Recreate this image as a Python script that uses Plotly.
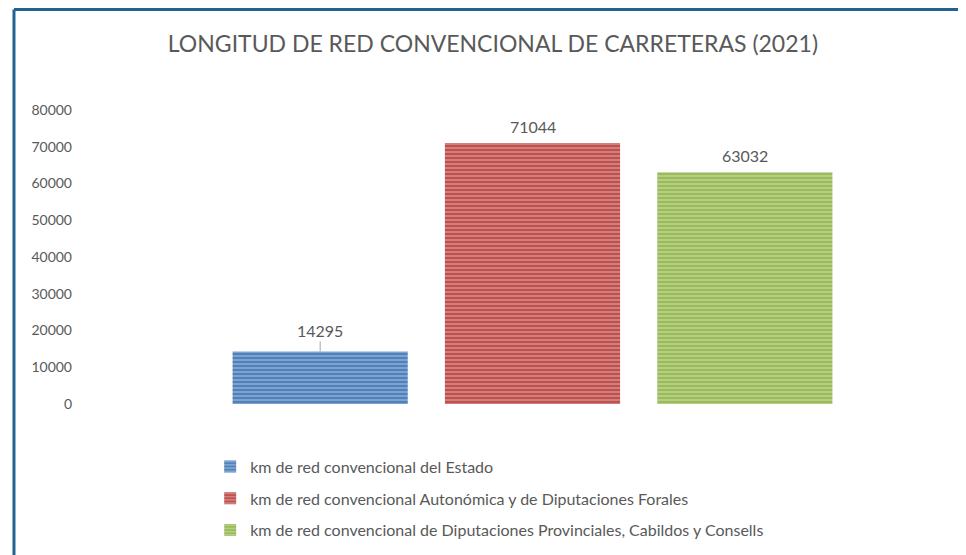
import plotly.graph_objects as go

# data
series_names = [
    "km de red convencional del Estado",
    "km de red convencional Autonómica y de Diputaciones Forales",
    "km de red convencional de Diputaciones Provinciales, Cabildos y Consells",
]
series_values = [14295, 71044, 63032]
bar_colors = ["#4F81BD", "#C0504D", "#9BBB59"]
stripe_colors = ["#B9CDE5", "#E6B9B8", "#D7E4BD"]
y_ticks = [0, 10000, 20000, 30000, 40000, 50000, 60000, 70000, 80000]

TEXT = "#595959"
FONT = "Lato, 'Open Sans', sans-serif"

fig = go.Figure()

for i, (name, val) in enumerate(zip(series_names, series_values)):
    fig.add_trace(go.Bar(
        x=[i],
        y=[val],
        name=name,
        legendgroup=str(i),
        marker=dict(
            color=bar_colors[i],
            line=dict(width=0),
            pattern=dict(shape="-", fgcolor=stripe_colors[i], bgcolor=bar_colors[i],
                         size=4, solidity=0.45, fillmode="overlay"),
        ),
        hovertemplate="%{y}<extra></extra>",
    ))

# value labels (first one sits higher with a leader line, like the original)
for i, val in enumerate(series_values):
    if i == 0:
        fig.add_annotation(x=i, y=val, text=str(val), showarrow=True,
                           ax=0, ay=-21, arrowhead=0, arrowwidth=1,
                           arrowcolor="#a6a6a6", standoff=0,
                           font=dict(size=16, color=TEXT, family=FONT))
    else:
        fig.add_annotation(x=i, y=val, text=str(val), showarrow=False,
                           yanchor="bottom", yshift=5,
                           font=dict(size=16, color=TEXT, family=FONT))

# outer frame (left and top edges only are visible in the reference)
frame = dict(color="#1F6391", width=3)
fig.add_shape(type="line", xref="paper", yref="paper",
              x0=-0.314, x1=-0.314, y0=1.342, y1=-0.6, line=frame)
fig.add_shape(type="line", xref="paper", yref="paper",
              x0=-0.314, x1=1.3, y0=1.342, y1=1.342, line=frame)

fig.update_layout(
    width=966, height=555,
    margin=dict(l=206, r=123, t=102, b=159),
    paper_bgcolor="white", plot_bgcolor="white",
    barmode="relative", bargap=0.175,
    font=dict(family=FONT, color=TEXT, size=14),
    title=dict(text="LONGITUD DE RED CONVENCIONAL DE CARRETERAS (2021)",
               x=0.502, xanchor="center", y=0.935, yanchor="middle",
               font=dict(size=23, color=TEXT, family=FONT)),
    xaxis=dict(visible=False, range=[-0.5, 2.5]),
    yaxis=dict(range=[0, 80000], tickvals=y_ticks, tickformat="d",
               showgrid=False, zeroline=False,
               showline=False, ticklabelstandoff=141,
               tickfont=dict(size=14, color=TEXT)),
    legend=dict(orientation="v", x=-0.006, xanchor="left", y=-0.155, yanchor="top",
                tracegroupgap=8, font=dict(size=16, color=TEXT),
                itemwidth=30, bgcolor="rgba(0,0,0,0)"),
    showlegend=True,
)

fig.write_html("out.html")
